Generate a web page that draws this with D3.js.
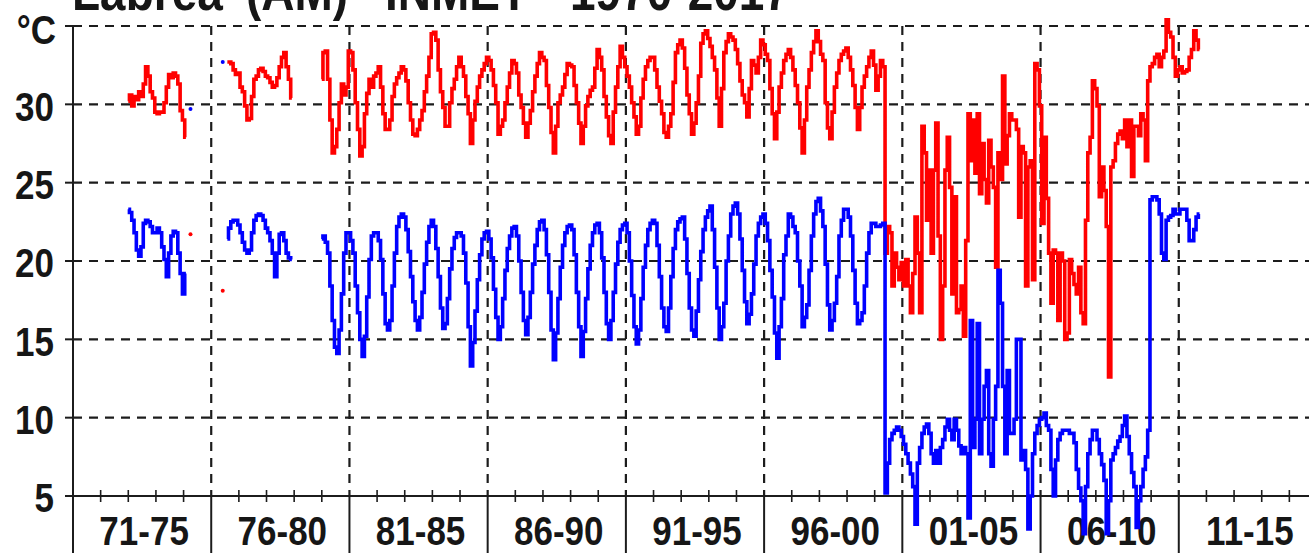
<!DOCTYPE html>
<html>
<head>
<meta charset="utf-8">
<title>Lábrea (AM) INMET</title>
<style>
  body { margin: 0; background: #fff; }
  svg { display: block; font-family: "Liberation Sans", Arial, sans-serif; }
  .lbl { font-size: 35px; font-weight: bold; fill: #161616; }
  .ttl { font-size: 46px; font-weight: bold; fill: #161616; }
</style>
</head>
<body>
<div id="chart"></div>
<script src="https://cdnjs.cloudflare.com/ajax/libs/d3/7.8.5/d3.min.js"></script>
<script>
// ---- data ----
const titleWords = ["Lábrea", "(AM)", "INMET", "1970-2017"];
const periods = ["71-75", "76-80", "81-85", "86-90", "91-95", "96-00", "01-05", "06-10", "11-15"];
const yLabels = [5, 10, 15, 20, 25, 30];
const unit = "°C";
const firstYear = 1971;   // monthly values, Jan 1971 onward
const _ = null;

// red: monthly max temperature
const tmax = [
  _, _, _, _, _, _, _, _, _, _, _, _,                                   // 1971
  _, _, _, _, _, _, _, _, _, _, _, _,                                   // 1972
  30.2, 30.6, 29.9, 30.5, 30.3, 30.8, 30.5, 31.3, 32.4, 31.8, 30.8, 30.4, // 1973
  29.5, 29.4, 29.5, 29.5, 30.1, 31.1, 31.9, 31.7, 32.0, 31.8, 31.3, 29.6, // 1974
  29.0, 27.9, _, 21.7, _, _, _, _, _, _, _, _,                          // 1975
  _, _, _, _, _, 18.1, _, 32.7, 32.7, 32.6, 32.2, 31.9,                 // 1976
  32.0, 31.1, 30.8, 29.9, 29.0, 29.1, 30.5, 31.6, 31.8, 32.2, 32.3, 32.1, // 1977
  31.8, 31.7, 31.4, 31.1, 31.2, 31.7, 32.4, 33.0, 33.3, 32.4, 31.6, 30.4, // 1978
  _, _, _, _, _, _, _, _, _, _, _, _,                                   // 1979
  31.6, 33.3, 33.4, 31.6, 29.0, 26.9, 27.3, 28.4, 30.1, 31.3, 30.6, 31.1, // 1980
  33.4, 33.3, 32.2, 30.1, 28.4, 26.7, 27.3, 29.4, 30.7, 31.6, 31.1, 31.8, // 1981
  32.0, 32.4, 31.1, 29.4, 28.4, 28.4, 29.0, 30.5, 31.3, 31.7, 32.0, 32.4, // 1982
  32.2, 31.5, 30.1, 29.0, 28.1, 28.0, 28.4, 29.0, 29.6, 30.8, 31.8, 33.0, // 1983
  34.5, 34.6, 34.1, 32.2, 30.8, 29.8, 28.6, 28.6, 30.1, 31.0, 31.6, 32.4, // 1984
  33.0, 32.4, 31.8, 30.5, 29.4, 27.5, 29.0, 30.2, 31.1, 31.8, 32.2, 32.6, // 1985
  33.0, 32.8, 32.2, 31.2, 30.1, 28.1, 28.6, 29.0, 30.1, 31.1, 32.0, 32.8, // 1986
  32.6, 32.0, 30.6, 29.8, 28.8, 27.9, 28.8, 29.6, 30.8, 31.8, 32.6, 33.3, // 1987
  33.0, 32.8, 31.2, 29.8, 28.2, 26.9, 28.6, 30.1, 30.6, 31.1, 31.9, 32.6, // 1988
  32.5, 32.4, 31.2, 30.1, 28.8, 27.5, 28.6, 29.9, 30.5, 30.9, 31.1, 32.3, // 1989
  33.5, 33.0, 32.2, 30.5, 29.2, 28.0, 27.5, 29.5, 31.1, 32.4, 33.7, 33.0, // 1990
  32.4, 31.8, 31.1, 30.1, 29.2, 28.1, 28.6, 30.4, 31.6, 32.4, 32.8, 33.0, // 1991
  33.0, 32.2, 31.1, 30.2, 29.4, 28.2, 27.9, 28.6, 29.4, 31.4, 33.3, 33.8, // 1992
  34.1, 33.6, 32.3, 30.6, 29.4, 28.1, 28.8, 30.1, 31.8, 33.9, 34.5, 34.7, // 1993
  34.2, 33.7, 33.0, 32.2, 30.4, 28.6, 31.0, 33.3, 34.0, 34.5, 34.3, 34.1, // 1994
  33.5, 32.6, 31.5, 30.6, 30.1, 29.2, 31.0, 32.8, 32.5, 32.0, 33.0, 34.1, // 1995
  33.8, 33.2, 32.8, 31.0, 29.4, 27.8, 29.5, 31.1, 32.0, 32.8, 33.2, 33.5, // 1996
  33.0, 32.2, 31.2, 30.1, 28.5, 26.9, 29.0, 31.1, 32.2, 33.3, 34.0, 34.7, // 1997
  34.0, 33.2, 32.8, 30.1, 28.5, 27.8, 29.5, 31.1, 32.0, 32.8, 33.2, 33.4, // 1998
  33.6, 33.0, 32.2, 31.2, 29.8, 28.4, 29.8, 31.1, 31.8, 32.4, 33.0, 33.4, // 1999
  32.5, 30.9, 31.8, 32.8, 32.4, 20.5, 22.2, 21.8, 18.4, 20.5, 19.6, 18.8, // 2000
  19.9, 18.4, 20.1, 18.4, 16.7, 19.2, 22.8, 20.5, 16.7, 28.6, 26.9, 22.6, // 2001
  25.8, 20.5, 25.8, 28.8, 21.6, 15.0, 18.4, 25.8, 27.9, 24.7, 17.9, 24.1, // 2002
  16.7, 16.9, 18.4, 15.2, 21.3, 29.4, 26.4, 29.0, 25.6, 29.4, 24.3, 27.5, // 2003
  25.2, 23.7, 27.7, 26.0, 24.7, 19.6, 26.9, 25.2, 31.8, 26.2, 28.0, 29.4, // 2004
  29.0, 29.0, 28.4, 22.8, 27.3, 26.9, 18.4, 26.0, 26.4, 18.8, 32.6, 32.2, // 2005
  29.9, 22.4, 27.9, 24.0, 20.5, 17.3, 20.7, 20.5, 16.2, 20.5, 20.0, 15.0, // 2006
  15.4, 20.1, 19.2, 18.5, 17.9, 19.6, 16.7, 16.0, 22.6, 26.9, 27.9, 31.5, // 2007
  31.0, 29.9, 24.1, 26.0, 24.5, 22.2, 12.6, 26.0, 26.4, 27.5, 28.1, 28.3, // 2008
  27.8, 29.0, 27.3, 29.0, 25.4, 28.6, 28.6, 28.0, 29.4, 29.0, 26.4, 31.5, // 2009
  32.4, 32.6, 33.0, 33.2, 32.4, 33.0, 33.4, 35.4, 34.6, 34.3, 33.0, 31.8, // 2010
  32.2, 32.4, 32.0, 32.1, 32.2, 33.0, 33.5, 34.7, 34.1, 33.5, _, _      // 2011
];

// blue: monthly min temperature
const tmin = [
  _, _, _, _, _, _, _, _, _, _, _, _,                                   // 1971
  _, _, _, _, _, _, _, _, _, _, _, _,                                   // 1972
  23.3, 23.1, 22.6, 21.8, 20.7, 20.3, 20.9, 22.4, 22.6, 22.5, 22.2, 21.8, // 1973
  21.8, 22.1, 21.8, 20.9, 20.1, 19.0, 20.5, 21.6, 21.9, 21.8, 20.5, 19.2, // 1974
  17.9, 19.2, _, 29.7, _, _, _, _, _, _, _, _,                          // 1975
  _, _, _, _, _, 32.7, _, 21.4, 22.1, 22.5, 22.6, 22.6,                 // 1976
  22.3, 21.8, 21.2, 20.7, 20.5, 20.7, 21.8, 22.6, 22.9, 23.0, 22.9, 22.6, // 1977
  22.1, 21.8, 21.3, 20.5, 19.0, 20.5, 21.7, 21.8, 21.3, 20.5, 20.2, 20.1, // 1978
  _, _, _, _, _, _, _, _, _, _, _, _,                                   // 1979
  21.4, 21.6, 21.2, 20.5, 18.4, 16.2, 14.5, 14.1, 15.6, 17.9, 20.5, 21.8, // 1980
  21.8, 21.3, 20.5, 18.4, 16.7, 15.0, 13.9, 15.2, 17.7, 20.1, 21.6, 21.8, // 1981
  21.8, 21.3, 20.1, 17.9, 16.0, 15.6, 16.2, 18.4, 20.5, 22.2, 22.8, 23.0, // 1982
  22.8, 22.0, 20.6, 19.0, 17.4, 16.2, 15.6, 16.4, 18.0, 19.8, 21.2, 22.2, // 1983
  22.6, 22.2, 20.8, 19.0, 17.0, 15.7, 16.0, 17.6, 19.5, 20.8, 21.5, 21.8, // 1984
  21.8, 21.6, 20.5, 18.6, 15.8, 13.3, 14.8, 16.8, 18.8, 20.4, 21.4, 21.8, // 1985
  21.9, 21.4, 20.2, 18.2, 16.4, 15.0, 15.8, 17.6, 19.4, 20.8, 21.6, 22.1, // 1986
  22.2, 21.6, 20.0, 18.0, 16.2, 15.3, 16.4, 18.0, 19.8, 21.0, 22.0, 22.5, // 1987
  22.6, 22.0, 20.4, 18.0, 15.6, 13.7, 15.4, 17.6, 19.6, 21.0, 21.8, 22.2, // 1988
  22.3, 22.0, 20.4, 18.0, 15.8, 13.9, 15.5, 17.6, 19.5, 21.0, 21.8, 22.3, // 1989
  22.4, 21.8, 20.2, 18.0, 16.0, 15.0, 16.2, 18.0, 19.8, 21.2, 22.0, 22.3, // 1990
  22.4, 21.8, 20.0, 17.8, 15.8, 14.7, 15.6, 17.6, 19.6, 21.0, 22.0, 22.4, // 1991
  22.6, 22.4, 21.0, 19.0, 17.0, 15.8, 15.5, 17.0, 19.0, 20.8, 22.0, 22.5, // 1992
  22.7, 22.8, 21.4, 19.2, 17.0, 15.6, 15.2, 16.8, 18.8, 20.6, 22.0, 22.8, // 1993
  23.2, 23.5, 22.0, 19.6, 17.0, 15.0, 15.8, 17.3, 20.0, 21.6, 23.0, 23.5, // 1994
  23.7, 23.0, 21.4, 19.4, 17.4, 16.0, 16.6, 17.9, 19.8, 21.6, 22.4, 22.8, // 1995
  23.0, 22.4, 21.3, 19.4, 17.7, 15.4, 13.8, 15.8, 17.6, 20.4, 21.6, 23.0, // 1996
  22.8, 22.2, 21.8, 20.0, 18.4, 15.8, 16.4, 17.2, 19.4, 21.6, 23.0, 23.8, // 1997
  24.0, 23.2, 22.2, 19.8, 17.2, 15.6, 16.2, 17.3, 19.0, 21.6, 22.6, 23.3, // 1998
  23.3, 22.8, 21.6, 19.4, 17.3, 16.0, 16.2, 16.7, 18.4, 20.5, 21.8, 22.4, // 1999
  22.4, 22.2, 22.2, 22.3, 22.4, 5.2, 7.1, 8.6, 9.0, 9.2, 9.4, 9.2,      // 2000
  8.8, 8.3, 7.7, 7.1, 6.4, 5.6, 3.2, 7.1, 8.1, 9.0, 9.4, 9.6,           // 2001
  9.0, 7.7, 7.1, 7.9, 7.1, 8.1, 8.6, 9.4, 9.9, 9.2, 8.6, 9.9,           // 2002
  9.2, 8.2, 7.7, 8.1, 7.7, 3.6, 16.2, 8.1, 9.9, 16.0, 7.7, 9.9,         // 2003
  12.0, 13.0, 7.7, 6.9, 9.9, 12.0, 19.4, 17.3, 12.0, 7.7, 13.0, 9.0,    // 2004
  9.0, 9.9, 15.0, 15.0, 7.3, 7.9, 6.7, 2.9, 5.0, 7.7, 9.0, 9.5,         // 2005
  9.9, 10.0, 10.3, 9.5, 9.2, 6.7, 5.0, 7.3, 8.6, 9.0, 9.2, 9.2,         // 2006
  9.2, 9.0, 9.0, 8.4, 6.7, 5.5, 4.7, 2.6, 5.6, 7.7, 8.6, 9.2,           // 2007
  9.2, 8.6, 7.7, 7.0, 6.0, 2.6, 4.7, 7.3, 7.7, 8.1, 8.5, 8.8,           // 2008
  9.5, 10.1, 8.8, 7.7, 6.5, 5.6, 3.0, 4.7, 5.6, 6.7, 7.5, 9.2,          // 2009
  23.9, 24.1, 24.1, 23.9, 23.0, 20.5, 20.1, 22.6, 22.8, 22.9, 23.3, 23.0, // 2010
  23.0, 23.3, 23.3, 23.3, 22.6, 21.3, 21.3, 22.0, 22.8, 23.0, _, _      // 2011
];

// ---- layout ----
const W = 1309, H = 553;
const x = d3.scaleLinear().domain([1971, 2016]).range([73, 1317]);
const y = d3.scaleLinear().domain([5, 35]).range([496, 26]);
const ink = "#1c1c1c";
const stretch = "scale(1,1.15)";

const svg = d3.select("#chart").append("svg")
  .attr("width", W)
  .attr("height", H);

// dashed grid
svg.append("g").selectAll("line")
  .data(d3.range(10, 36, 5))
  .join("line")
  .attr("x1", x(1971)).attr("x2", W)
  .attr("y1", d => y(d)).attr("y2", d => y(d))
  .attr("stroke", ink).attr("stroke-width", 2.2).attr("stroke-dasharray", "9,7");

svg.append("g").selectAll("line")
  .data(d3.range(1976, 2016, 5))
  .join("line")
  .attr("x1", d => x(d)).attr("x2", d => x(d))
  .attr("y1", y(35)).attr("y2", y(5))
  .attr("stroke", ink).attr("stroke-width", 2.2).attr("stroke-dasharray", "9,7");

// axes
svg.append("line")
  .attr("x1", x(1971)).attr("x2", x(1971))
  .attr("y1", y(35) - 1).attr("y2", H)
  .attr("stroke", ink).attr("stroke-width", 2);

svg.append("line")
  .attr("x1", x(1971) - 8).attr("x2", W)
  .attr("y1", y(5)).attr("y2", y(5))
  .attr("stroke", ink).attr("stroke-width", 2);

svg.append("g").selectAll("line")
  .data(d3.range(10, 36, 5))
  .join("line")
  .attr("x1", x(1971) - 8).attr("x2", x(1971))
  .attr("y1", d => y(d)).attr("y2", d => y(d))
  .attr("stroke", ink).attr("stroke-width", 2);

// yearly ticks and period separators
svg.append("g").selectAll("line")
  .data(d3.range(1972, 2016).filter(d => (d - 1971) % 5 !== 0))
  .join("line")
  .attr("x1", d => x(d)).attr("x2", d => x(d))
  .attr("y1", y(5) - 6).attr("y2", y(5) + 6)
  .attr("stroke", ink).attr("stroke-width", 1.6);

svg.append("g").selectAll("line")
  .data(d3.range(1976, 2017, 5))
  .join("line")
  .attr("x1", d => x(d)).attr("x2", d => x(d))
  .attr("y1", y(5)).attr("y2", H)
  .attr("stroke", ink).attr("stroke-width", 2);

// labels
svg.append("g").selectAll("text")
  .data(yLabels)
  .join("text")
  .attr("class", "lbl")
  .attr("text-anchor", "end")
  .attr("transform", d => `translate(54,${y(d) + 2}) ${stretch}`)
  .attr("y", 12.5)
  .text(d => d);

svg.append("text")
  .attr("class", "lbl")
  .attr("text-anchor", "end")
  .attr("transform", `translate(56,${y(35) + 4}) ${stretch}`)
  .attr("y", 12.5)
  .text(unit);

svg.append("g").selectAll("text")
  .data(periods)
  .join("text")
  .attr("class", "lbl")
  .attr("text-anchor", "middle")
  .attr("transform", (d, i) => `translate(${x(1971 + i * 5 + 2.5) + 2},545) ${stretch}`)
  .text(d => d);

const titleX = [72, 246, 385, 570];
svg.append("text")
  .attr("class", "ttl")
  .attr("transform", `translate(0,10) ${stretch}`)
  .selectAll("tspan")
  .data(titleWords)
  .join("tspan")
  .attr("x", (d, i) => titleX[i])
  .text(d => d);

// series
function monthly(vals) {
  return vals.map((v, i) => ({ t: firstYear + i / 12, v: v }));
}

const line = d3.line()
  .defined(d => d.v != null)
  .x(d => x(d.t))
  .y(d => y(d.v))
  .curve(d3.curveStep);

function draw(vals, color) {
  const pts = monthly(vals);
  svg.append("path")
    .datum(pts)
    .attr("fill", "none")
    .attr("stroke", color)
    .attr("stroke-width", 3.6)
    .attr("d", line);
  // single months with no neighbours
  const lone = pts.filter((d, i) => d.v != null &&
    (i === 0 || pts[i - 1].v == null) &&
    (i === pts.length - 1 || pts[i + 1].v == null));
  svg.append("g").selectAll("circle")
    .data(lone)
    .join("circle")
    .attr("cx", d => x(d.t))
    .attr("cy", d => y(d.v))
    .attr("r", 2)
    .attr("fill", color);
}

draw(tmax, "#ff0000");
draw(tmin, "#0000ff");
</script>
</body>
</html>
